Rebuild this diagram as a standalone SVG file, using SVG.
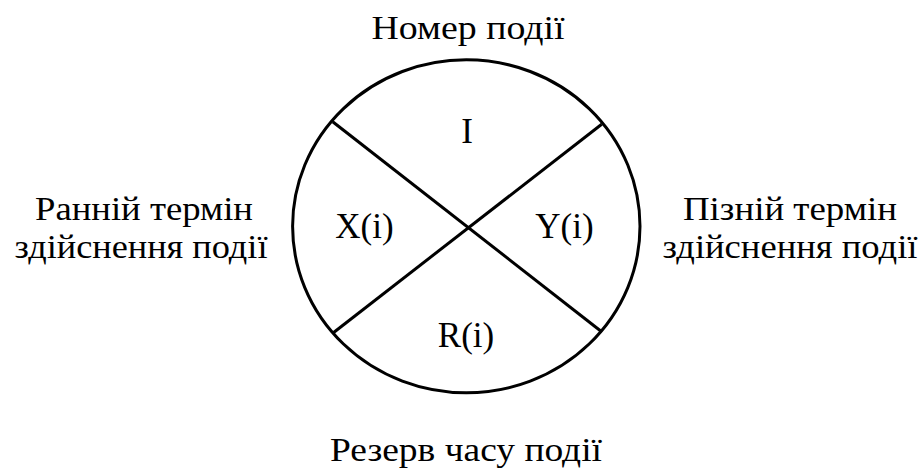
<svg xmlns="http://www.w3.org/2000/svg" width="924" height="468" viewBox="0 0 924 468">
<style>
.ln{stroke:#000;stroke-width:3;fill:none}
</style>
<rect width="924" height="468" fill="#fff"/>
<g id="event">
<ellipse class="ln" cx="466.3" cy="226.3" rx="173.7" ry="166.5"/>
</g>
<g id="connectors">
<line class="ln" x1="332.7" y1="121.7" x2="601.7" y2="331.7"/>
<line class="ln" x1="601.7" y1="124.3" x2="333.3" y2="332.7"/>
</g>
<g font-family="Liberation Serif, serif" font-size="35" text-anchor="middle" fill="#000">
<g id="sector-top"><text x="467" y="142.7">I</text></g>
<g id="sector-left"><text x="364.5" y="238">X(i)</text></g>
<g id="sector-right"><text x="564.5" y="238">Y(i)</text></g>
<g id="sector-bottom"><text x="466" y="346.7">R(i)</text></g>
</g>
<g font-family="Liberation Serif, serif" font-size="33" text-anchor="middle" fill="#000">
<g id="label-top"><text x="468" y="39" textLength="193" lengthAdjust="spacingAndGlyphs">Номер події</text></g>
<g id="label-left"><text x="144" y="220" textLength="218" lengthAdjust="spacingAndGlyphs">Ранній термін</text><text x="141" y="258" textLength="253" lengthAdjust="spacingAndGlyphs">здійснення події</text></g>
<g id="label-right"><text x="790" y="220" textLength="214" lengthAdjust="spacingAndGlyphs">Пізній термін</text><text x="790" y="258" textLength="255" lengthAdjust="spacingAndGlyphs">здійснення події</text></g>
<g id="label-bottom"><text x="466" y="461" textLength="272" lengthAdjust="spacingAndGlyphs">Резерв часу події</text></g>
</g>
</svg>
